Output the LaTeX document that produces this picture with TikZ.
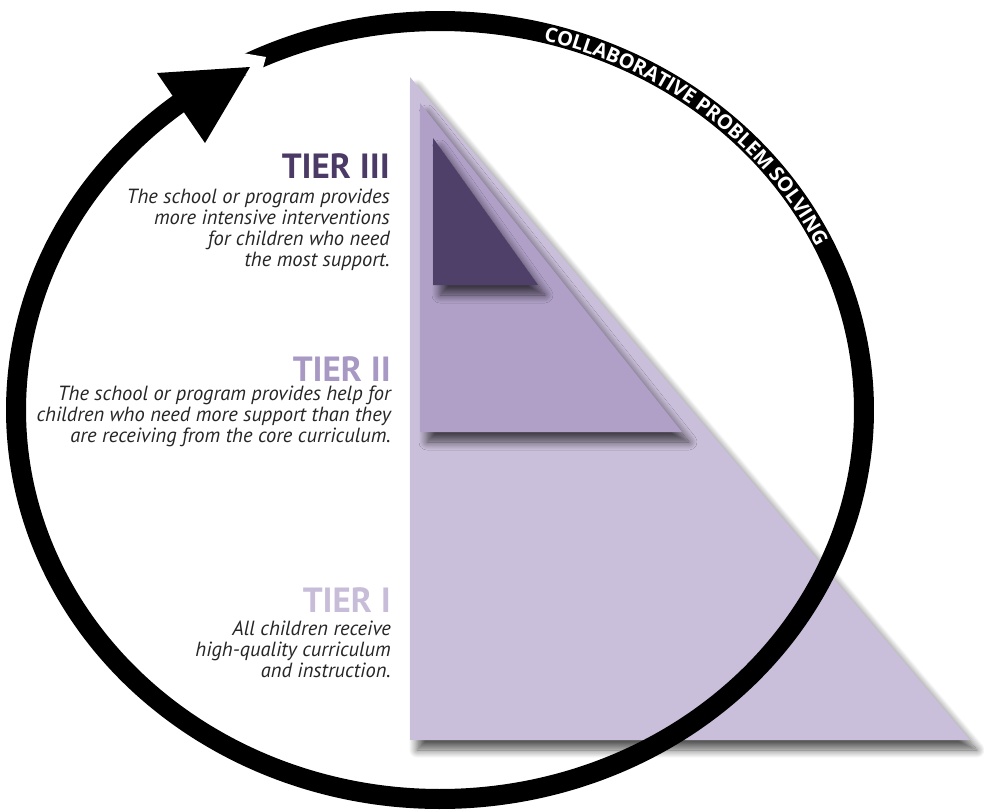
\documentclass[tikz,border=0pt]{standalone}
\usepackage{fontspec}
\setmainfont{PT Sans}
\newfontfamily\bannerfont{Open Sans}
\usetikzlibrary{positioning,shadows.blur,decorations.text}
\definecolor{tierone}{RGB}{202,191,218}
\definecolor{tiertwo}{RGB}{176,160,200}
\definecolor{tierthree}{RGB}{79,64,106}
\definecolor{headone}{RGB}{200,189,217}
\definecolor{headtwo}{RGB}{168,152,196}
\definecolor{headthree}{RGB}{75,58,102}
\definecolor{bodygray}{RGB}{38,38,38}
\tikzset{
  tier/.style  = {draw=none, blur shadow={shadow xshift=7pt, shadow yshift=-10pt,
                  shadow blur radius=8pt, shadow blur steps=14, shadow opacity=65}},
  head/.style  = {anchor=base east, inner sep=0pt,
                  font=\fontsize{35}{35}\selectfont\bfseries},
  blurb/.style = {anchor=north east, inner sep=0pt, align=right, text=bodygray,
                  font=\fontsize{20.5}{20.8}\selectfont\itshape},
  ring/.style  = {line width=20pt, black}
}

\begin{document}
\begin{tikzpicture}[x=1pt, y=-1pt]
  \useasboundingbox (0,0) rectangle (984,811);

  % pyramid
  \coordinate (t1a) at (410,77);
  \coordinate (t1b) at (410,740);
  \coordinate (t1c) at (970,740);
  \coordinate (t2a) at (420,103);
  \coordinate (t2b) at (420,432);
  \coordinate (t2c) at (682,432);
  \coordinate (t3a) at (433,138);
  \coordinate (t3b) at (433,285);
  \coordinate (t3c) at (538,285);
  \fill[tierone, tier]   (t1a) -- (t1b) -- (t1c) -- cycle;
  \fill[tiertwo, tier]   (t2a) -- (t2b) -- (t2c) -- cycle;
  \fill[tierthree, tier] (t3a) -- (t3b) -- (t3c) -- cycle;

  % cycle arrow
  \draw[ring] plot[domain=241:593, samples=240, smooth]
    ({440+424*cos(\x)}, {410+389*sin(\x)});
  \coordinate (cutout) at (231,51);
  \coordinate (cutin) at (266,57);
  \coordinate (cutlow) at (261,75);
  \coordinate (cutback) at (222,75);
  \fill[white] (cutout) -- (cutin) -- (cutlow) -- (cutback) -- cycle;
  \coordinate (headl) at (157,73);
  \coordinate (tip) at (250,67);
  \coordinate (headr) at (205,143);
  \fill[black] (headl) -- (tip) -- (headr) -- cycle;
  \begin{scope}[shift={(440,410)}]
    \path[decorate, decoration={text along path, text align=center, raise=-7.5pt,
        text={|\bannerfont\bfseries\fontsize{20}{20}\selectfont\color{white}|COLLABORATIVE PROBLEM SOLVING}}]
      plot[domain=284:335, samples=120] ({424*cos(\x)}, {389*sin(\x)});
  \end{scope}

  % labels
  \node[head, text=headthree] (tier3head) at (390,178) {TIER III};
  \node[blurb] (tier3text) at (390,189) {The school or program provides\\
    more intensive interventions\\for children who need\\the most support.};
  \node[head, text=headtwo] (tier2head) at (391,381) {TIER II};
  \node[blurb] (tier2text) at (391,386) {The school or program provides help for\\
    children who need more support than they\\are receiving from the core curriculum.};
  \node[head, text=headone] (tier1head) at (391,612) {TIER I};
  \node[blurb] (tier1text) at (391,621) {All children receive\\
    high-quality curriculum\\and instruction.};
\end{tikzpicture}
\end{document}
